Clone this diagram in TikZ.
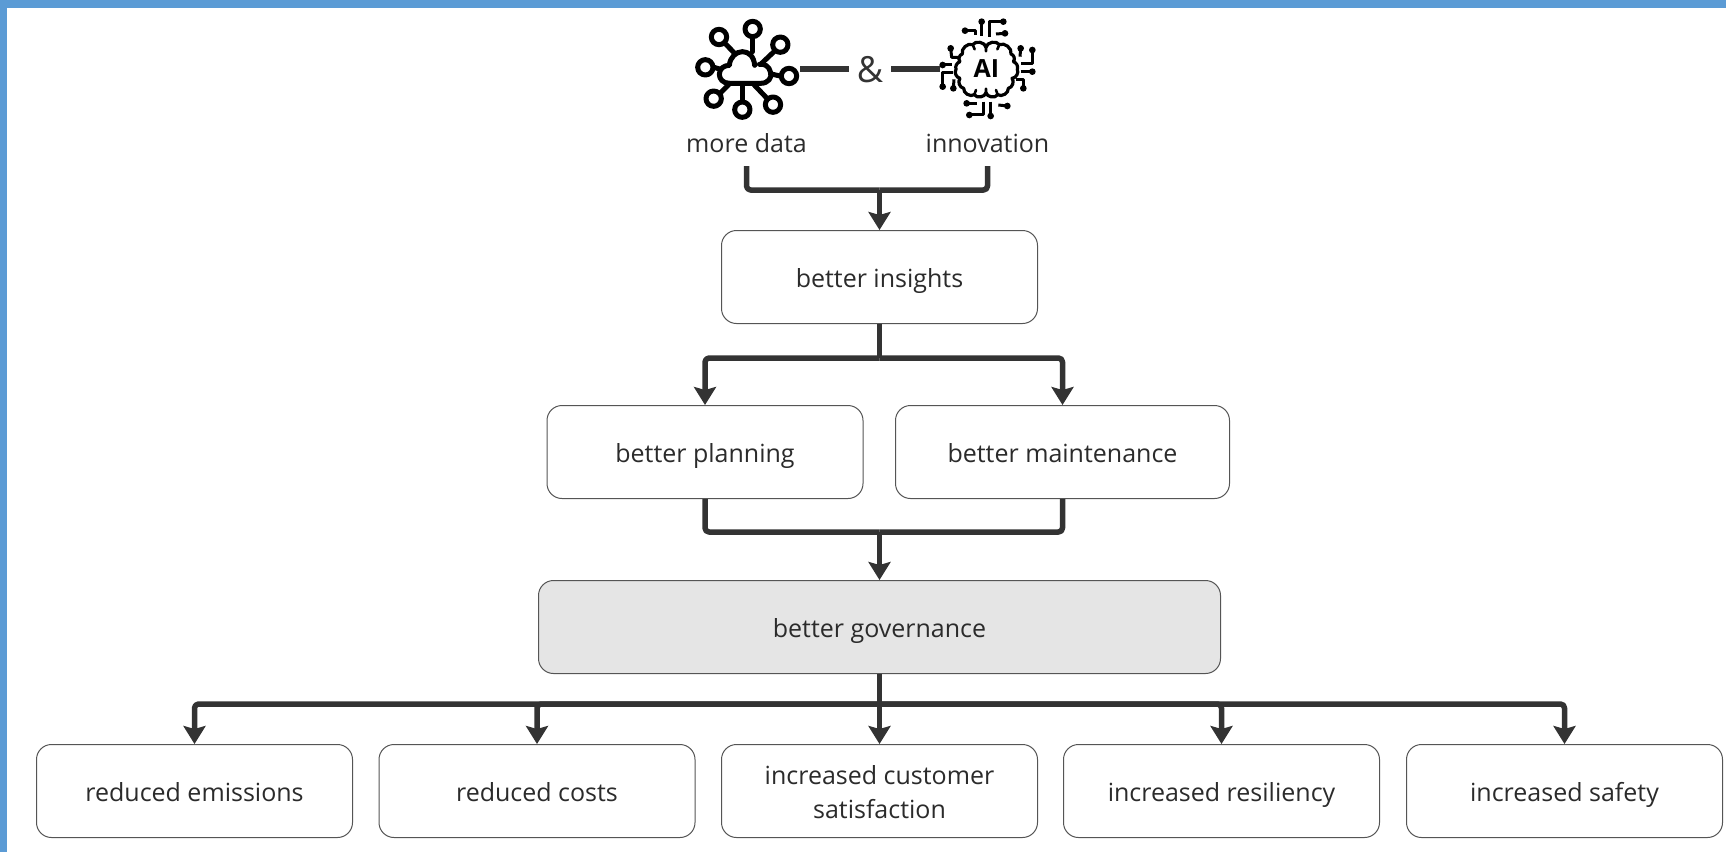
\documentclass[tikz,border=0pt]{standalone}
\usepackage{fontspec}
\setmainfont{Open Sans}
\usetikzlibrary{arrows.meta}
\definecolor{frameblue}{HTML}{5B9BD5}
\definecolor{ink}{HTML}{333333}
\definecolor{txt}{HTML}{2B2B2B}
\definecolor{boxline}{HTML}{555555}
\definecolor{govfill}{HTML}{E5E5E5}
\newcommand{\tstrut}{\rule[-6.2pt]{0pt}{34pt}}
\tikzset{
  box/.style={draw=boxline,line width=1pt,rounded corners=15pt,fill=white,align=center,text=txt,
    inner sep=0pt,font=\fontsize{25}{34}\selectfont,minimum height=93pt},
  small/.style={box,minimum width=316pt},
  caption/.style={text=txt,inner sep=0pt,anchor=base,font=\fontsize{25}{34}\selectfont,text height=20pt,text depth=14pt},
  conn/.style={draw=ink,line width=5.5pt,rounded corners=4pt,line join=round},
  arrow/.style={draw=ink,line width=5.5pt,line join=round,-{Stealth[length=18pt,width=22pt,inset=3pt]}},
  elbow/.style={rounded corners=4pt},
  iconline/.style={draw=black,line width=5pt,line cap=round,line join=round},
  trace/.style={draw=black,line width=3pt,line join=round},
  tdot/.style={fill=black},
}
\begin{document}
\begin{tikzpicture}[x=1pt,y=-1pt]
\useasboundingbox (0,0) rectangle (1726,852);
\fill[frameblue] (0,0) rectangle (1726,8);
\fill[frameblue] (0,0) rectangle (7,852);

% nodes
\node[box,minimum width=316pt] (insights) at (879.5,277) {\tstrut better insights};
\node[box,minimum width=316pt] (planning) at (705,452) {\tstrut better planning};
\node[box,minimum width=334pt] (maintenance) at (1062.5,452) {\tstrut better maintenance};
\node[box,minimum width=682pt,fill=govfill] (governance) at (879.5,627) {\tstrut better governance};
\node[small] (emissions) at (194.5,791) {\tstrut reduced emissions};
\node[small] (costs) at (537,791) {\tstrut reduced costs};
\node[small] (satisfaction) at (879.5,791) {\tstrut increased customer\\\tstrut satisfaction};
\node[small] (resiliency) at (1221.5,791) {\tstrut increased resiliency};
\node[small] (safety) at (1564.5,791) {\tstrut increased safety};
\node[caption] (moredata) at (746.5,152) {more data};
\node[caption] (innovation) at (987.5,152) {innovation};
\node[text=ink,inner sep=0pt,minimum width=42pt,font=\fontsize{36}{40}\selectfont] (amp) at (870,70) {\&};

% cloud icon
\begin{scope}[shift={(680,10)},x=0.3333pt,y=-0.3333pt]
  \foreach \p in {(218,57),(117,81),(301,104),(76,172),(327,198),(101,266),(187,299),(279,284)}
    \draw[iconline] \p circle[radius=23];
  \draw[iconline] (148,220) -- (242,220) .. controls (266,220) and (276,202) .. (272,188)
     .. controls (268,168) and (252,160) .. (238,163);
  \draw[iconline] (148,220) .. controls (128,220) and (118,206) .. (118,193)
     .. controls (118,176) and (132,166) .. (148,166) .. controls (150,142) and (168,125) .. (187,125)
     .. controls (207,125) and (222,140) .. (224,166);
  \draw[iconline] (218,85) -- (218,125);
  \draw[iconline] (138,103) -- (162,128);
  \draw[iconline] (282,125) -- (245,160);
  \draw[iconline] (102,172) -- (122,178);
  \draw[iconline] (300,198) -- (274,192);
  \draw[iconline] (122,248) -- (146,224);
  \draw[iconline] (187,272) -- (187,224);
  \draw[iconline] (260,264) -- (222,224);
\end{scope}

% AI brain icon
\begin{scope}[shift={(930,10)},x=0.3333pt,y=-0.3333pt]
  \draw[draw=black,line width=3.2pt,line join=round,line cap=round]
    (168,112) to[bend left=70] (208,104) to[bend left=65] (243,132) to[bend left=60] (250,155)
    to[bend left=45] (262,178) to[bend left=55] (246,205) to[bend left=60] (235,235)
    to[bend left=65] (203,254) to[bend left=70] (168,248) to[bend left=70] (133,254)
    to[bend left=65] (101,235) to[bend left=60] (90,205) to[bend left=55] (78,178)
    to[bend left=45] (90,155) to[bend left=60] (97,132) to[bend left=65] (128,104) to[bend left=70] cycle;
  \draw[draw=black,line width=2.6pt,line cap=round]
    (168,112) -- (168,124) (168,248) -- (168,236) (128,104) -- (134,118) (208,104) -- (202,118)
    (133,254) -- (138,240) (203,254) -- (198,240);
  \node[inner sep=0pt,text=black,font=\fontsize{25}{26}\selectfont\bfseries] (ailabel) at (169,175) {AI};
  \draw[trace] (155,35) -- (155,78);
  \draw[trace] (178,80) -- (178,35) -- (220,35);
  \draw[trace] (198,72) -- (225,70);
  \draw[trace] (105,62) -- (135,62) -- (135,76);
  \draw[trace] (62,115) -- (65,142) -- (85,142);
  \draw[trace] (38,165) -- (66,165);
  \draw[trace] (70,188) -- (38,188) -- (38,230);
  \draw[trace] (70,235) -- (72,208);
  \draw[trace] (272,115) -- (270,140);
  \draw[trace] (307,120) -- (307,162) -- (272,162);
  \draw[trace] (272,185) -- (307,185);
  \draw[trace] (258,208) -- (280,208) -- (280,235);
  \draw[trace] (110,280) -- (142,280);
  \draw[trace] (160,275) -- (160,315) -- (118,315);
  \draw[trace] (182,275) -- (182,318);
  \draw[trace] (205,285) -- (232,288);
  \foreach \p in {(155,35),(220,35),(225,70),(105,62),(62,115),(38,165),(38,230),(70,235),
                  (272,115),(307,120),(307,185),(280,235),(110,280),(118,315),(182,318),(232,288)}
    \fill[tdot] \p circle[radius=10];
\end{scope}

% connectors
\coordinate (cloudend) at (800,69);
\coordinate (aiend) at (940,69);
\draw[conn] (cloudend) -- (amp.west |- cloudend);
\draw[conn] (aiend) -- (amp.east |- aiend);
\coordinate (j0) at (879.5,190);
\coordinate (j1) at (879.5,358);
\coordinate (j2) at (879.5,532);
\coordinate (j3) at (879.5,704);
\draw[conn] (moredata.south) |- (j0);
\draw[conn] (innovation.south) |- (j0);
\draw[arrow] (j0) -- (insights.north);
\draw[conn] (insights.south) -- (j1);
\draw[arrow] (j1) [elbow] -| (planning.north) [sharp corners];
\draw[arrow] (j1) [elbow] -| (maintenance.north) [sharp corners];
\draw[conn] (planning.south) |- (j2);
\draw[conn] (maintenance.south) |- (j2);
\draw[arrow] (j2) -- (governance.north);
\draw[conn] (governance.south) -- (j3);
\draw[arrow] (j3) [elbow] -| (emissions.north) [sharp corners];
\draw[arrow] (j3) [elbow] -| (costs.north) [sharp corners];
\draw[arrow] (j3) -- (satisfaction.north);
\draw[arrow] (j3) [elbow] -| (resiliency.north) [sharp corners];
\draw[arrow] (j3) [elbow] -| (safety.north) [sharp corners];
\end{tikzpicture}
\end{document}
